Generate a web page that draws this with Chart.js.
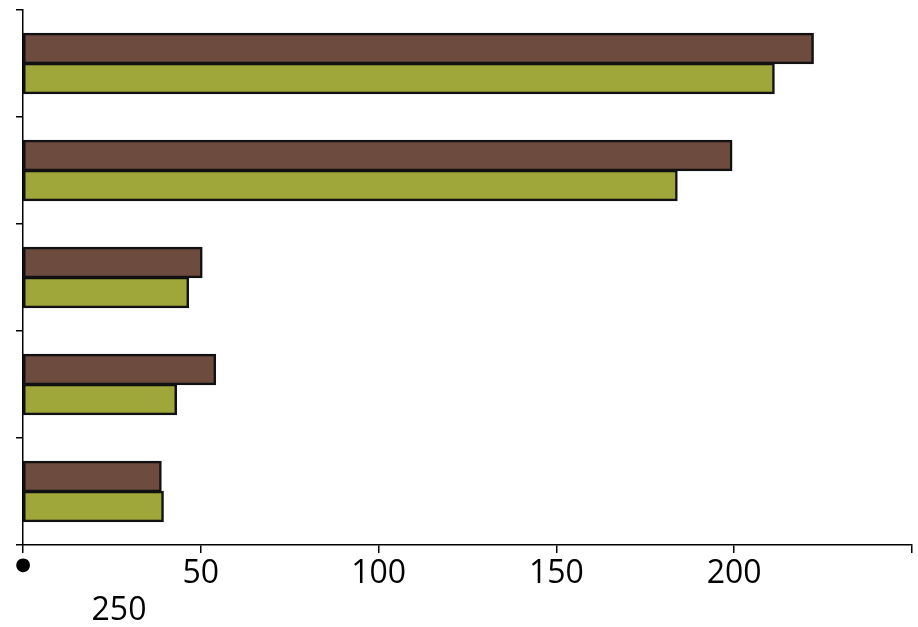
<!DOCTYPE html>
<html>
<head>
<meta charset="utf-8">
<script src="https://cdn.jsdelivr.net/npm/chart.js@4/dist/chart.umd.min.js"></script>
<style>
  html, body { margin: 0; padding: 0; background: #ffffff; }
  #wrap { width: 918px; height: 627px; position: relative; }
</style>
</head>
<body>
<div id="wrap"><canvas id="c" width="918" height="627"></canvas></div>
<script>
const categories = ["Category 1", "Category 2", "Category 3", "Category 4", "Category 5"];
const seriesBrown = [222.2, 199.3, 50.3, 54.1, 38.8];
const seriesGreen = [211.2, 183.9, 46.5, 43.1, 39.4];
const xTickValues = [0, 50, 100, 150, 200, 250];
const xTickLabels = ["●", "50", "100", "150", "200", "250"];

const FONT = "'Open Sans', 'Liberation Sans', sans-serif";

// Draws the last tick label ("250") on a second line, as in the reference
const strayLabelPlugin = {
  id: 'strayLabel',
  afterDraw(chart) {
    const ctx = chart.ctx;
    const x = chart.scales.x;
    ctx.save();
    ctx.font = "32px " + FONT;
    ctx.fillStyle = "#000000";
    ctx.textAlign = "center";
    ctx.textBaseline = "middle";
    ctx.fillText(xTickLabels[xTickLabels.length - 1], x.left + 96, 611);
    ctx.restore();
  }
};

new Chart(document.getElementById('c'), {
  type: 'bar',
  data: {
    labels: categories,
    datasets: [
      {
        label: 'Series 1',
        data: seriesBrown,
        backgroundColor: '#6D4B3F',
        borderColor: '#111111',
        borderWidth: 2.5,
        borderSkipped: false,
        inflateAmount: 0.75
      },
      {
        label: 'Series 2',
        data: seriesGreen,
        backgroundColor: '#9FA63A',
        borderColor: '#111111',
        borderWidth: 2.5,
        borderSkipped: false,
        inflateAmount: 0.75
      }
    ]
  },
  options: {
    indexAxis: 'y',
    responsive: false,
    animation: false,
    devicePixelRatio: 1,
    layout: { padding: { top: 10, right: 6, left: 0, bottom: 0 } },
    plugins: {
      legend: { display: false },
      tooltip: { enabled: false }
    },
    datasets: {
      bar: { categoryPercentage: 0.56, barPercentage: 1.0 }
    },
    scales: {
      x: {
        type: 'linear',
        min: 0,
        max: 250,
        afterBuildTicks(scale) {
          scale.ticks = xTickValues.map(v => ({ value: v }));
        },
        afterFit(scale) { scale.height = 82; },
        border: { display: true, color: '#000000', width: 1.5 },
        grid: {
          display: true,
          drawOnChartArea: false,
          drawTicks: true,
          tickLength: 8,
          color: '#000000',
          lineWidth: 1.5
        },
        ticks: {
          autoSkip: false,
          maxRotation: 0,
          padding: 2,
          color: '#000000',
          font(ctx) {
            if (ctx.tick && ctx.tick.value === 0) {
              return { family: "'DejaVu Sans', sans-serif", size: 18 };
            }
            return { family: FONT, size: 32 };
          },
          callback(value) {
            const i = xTickValues.indexOf(value);
            if (i === xTickValues.length - 1) return '';
            return i >= 0 ? xTickLabels[i] : '';
          }
        }
      },
      y: {
        type: 'category',
        afterFit(scale) { scale.width = 23; },
        border: { display: true, color: '#000000', width: 1.5 },
        grid: {
          display: true,
          offset: true,
          drawOnChartArea: false,
          drawTicks: true,
          tickLength: 7,
          color: '#000000',
          lineWidth: 1.5
        },
        ticks: { display: false }
      }
    }
  },
  plugins: [strayLabelPlugin]
});
</script>
</body>
</html>
